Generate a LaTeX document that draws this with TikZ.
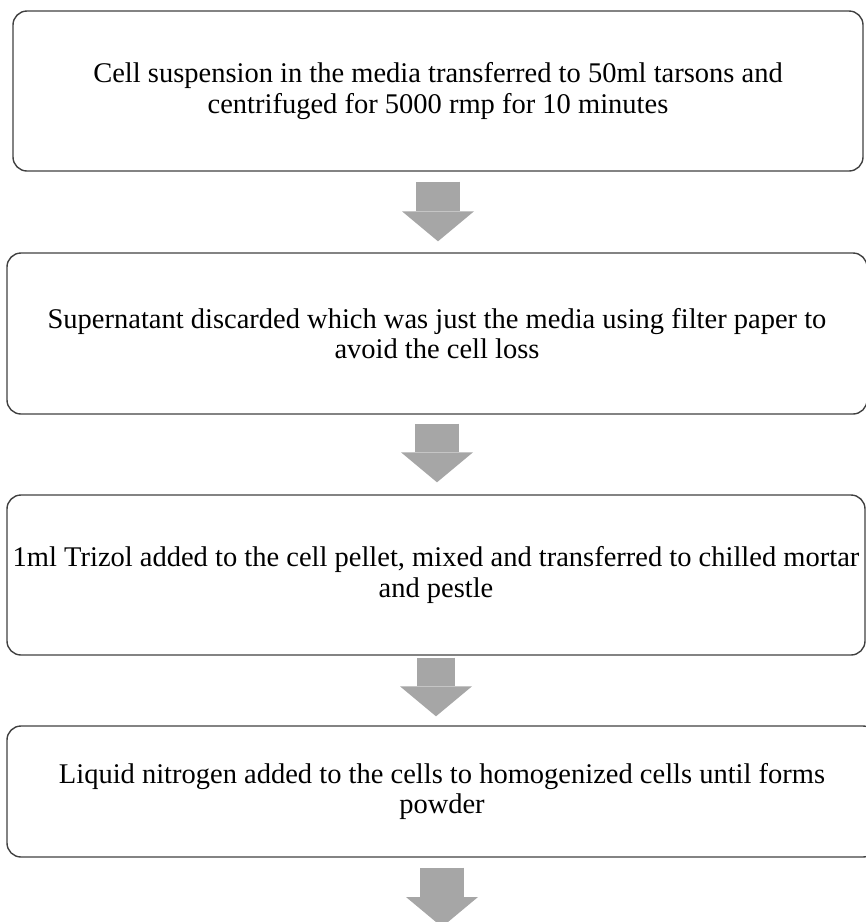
\documentclass[tikz,border=0pt]{standalone}
\usepackage{fontspec}
\setmainfont{Liberation Serif}
\usetikzlibrary{arrows.meta, positioning}

\definecolor{boxline}{HTML}{404040}
\definecolor{arrowgray}{HTML}{A6A6A6}

\begin{document}
\begin{tikzpicture}[x=1pt, y=-1pt,
        stepbox/.style={draw=boxline, line width=1.4pt, rounded corners=14pt, align=center,
            inner sep=0pt, font=\fontsize{28.5}{30.5}\selectfont},
        blockarrow/.style={draw=arrowgray, line width=44pt,
            -{Triangle[width=72pt, length=30pt, line width=0pt]}}]
        \useasboundingbox (0,0) rectangle (866,922);

        \node (suspension) [stepbox, minimum width=850pt, minimum height=160pt] at (438,91)
            {Cell suspension in the media transferred to 50ml tarsons and\\centrifuged for 5000 rmp for 10 minutes};
        \node (supernatant) [stepbox, minimum width=860pt, minimum height=161pt] at (437,333.5)
            {Supernatant discarded which was just the media using filter paper to\\avoid the cell loss};
        \node (trizol) [stepbox, minimum width=858pt, minimum height=160pt] at (436,575)
            {1ml Trizol added to the cell pellet, mixed and transferred to chilled mortar\\and pestle};
        \node (nitrogen) [stepbox, minimum width=870pt, minimum height=131pt] at (442,791.5)
            {Liquid nitrogen added to the cells to homogenized cells until forms\\powder};
        \coordinate (next) at (442,927);

        \draw[blockarrow] ([yshift=-10pt]suspension.south) -- ([yshift=11pt]suspension.south |- supernatant.north);
        \draw[blockarrow] ([yshift=-9pt]supernatant.south) -- ([yshift=12pt]supernatant.south |- trizol.north);
        \draw[blockarrow, line width=38pt] ([yshift=-2pt]trizol.south) -- ([yshift=9pt]trizol.south |- nitrogen.north);
        \draw[blockarrow] ([yshift=-10pt]nitrogen.south) -- (next);
    \end{tikzpicture}
\end{document}
